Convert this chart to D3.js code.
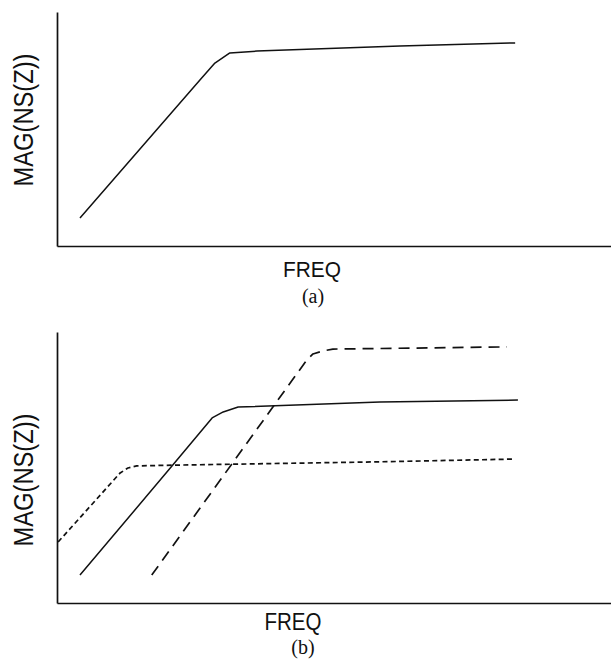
<!DOCTYPE html>
<html>
<head>
<meta charset="utf-8">
<script src="https://cdn.jsdelivr.net/npm/d3@7"></script>
<style>
  html, body { margin: 0; padding: 0; background: #fff; }
  svg { display: block; }
</style>
</head>
<body>
<script>
// ---------- data (abstract units: frequency 0-100, magnitude 0-100) ----------
const freqA      = [4.15, 25.8, 28.5, 31.2, 36.1, 61.9, 82.7];
const magA       = [12.0, 70.9, 78.2, 82.5, 83.3, 85.5, 86.8];

const freqBsolid = [4.15, 20.9, 28.0, 30.0, 32.7, 58.3, 83.2];
const magBsolid  = [10.3, 50.9, 68.3, 70.5, 72.3, 74.2, 74.9];

const freqBshort = [0.2, 11.4, 12.8, 14.4, 22.2, 58.3, 82.3];
const magBshort  = [22.5, 48.0, 49.8, 50.6, 50.9, 52.1, 53.1];

const freqBlong  = [17.1, 45.1, 46.2, 48.0, 49.8, 81.2];
const magBlong   = [10.3, 89.7, 91.9, 93.0, 93.7, 94.5];

const xLabel = "FREQ";
const yLabel = "MAG(NS(Z))";
const panelLabels = ["(a)", "(b)"];

// ---------- drawing ----------
const W = 611, H = 664;
const svg = d3.select("body").append("svg").attr("width", W).attr("height", H);
svg.append("rect").attr("width", W).attr("height", H).attr("fill", "#fff");

const ink = "#111";
const sans = "'Liberation Sans', Arial, sans-serif";
const serif = "'Liberation Serif', 'Times New Roman', serif";

function zip(xs, ys) { return xs.map((x, i) => [x, ys[i]]); }

function panel(cfg) {
  const x = d3.scaleLinear().domain([0, 100]).range([57, 611]);
  const y = d3.scaleLinear().domain([0, 100]).range([cfg.bottom, cfg.top]);
  const g = svg.append("g");

  const xa = g.append("g").attr("transform", `translate(0,${cfg.bottom})`)
    .call(d3.axisBottom(x).tickValues([]).tickSizeOuter(0));
  const ya = g.append("g").attr("transform", `translate(57,0)`)
    .call(d3.axisLeft(y).tickValues([]).tickSizeOuter(0));
  [xa, ya].forEach(a => a.select(".domain").attr("stroke", ink).attr("stroke-width", 1.7));

  const line = d3.line().x(d => x(d[0])).y(d => y(d[1])).curve(d3.curveLinear);
  cfg.series.forEach(s => {
    g.append("path")
      .attr("d", line(zip(s.fx, s.my)))
      .attr("fill", "none")
      .attr("stroke", ink)
      .attr("stroke-width", s.w)
      .attr("stroke-linejoin", "round")
      .attr("stroke-dasharray", s.dash);
  });

  // y label
  g.append("text")
    .attr("transform", `translate(${cfg.yLabX},${cfg.yLabY}) rotate(-90)`)
    .attr("text-anchor", "middle")
    .attr("font-family", sans)
    .attr("font-size", 27)
    .attr("textLength", 133)
    .attr("lengthAdjust", "spacingAndGlyphs")
    .attr("fill", ink)
    .text(yLabel);

  // x label
  g.append("text")
    .attr("x", cfg.xLabX).attr("y", cfg.xLabY)
    .attr("text-anchor", "middle")
    .attr("font-family", sans)
    .attr("font-size", cfg.xLabSize)
    .attr("textLength", cfg.xLabLen)
    .attr("lengthAdjust", "spacingAndGlyphs")
    .attr("fill", ink)
    .text(xLabel);

  // panel label
  g.append("text")
    .attr("x", cfg.pX).attr("y", cfg.pY)
    .attr("text-anchor", "middle")
    .attr("font-family", serif)
    .attr("font-size", 20)
    .attr("fill", ink)
    .text(cfg.pText);
}

panel({
  top: 12, bottom: 246,
  series: [{ fx: freqA, my: magA, dash: null, w: 1.5 }],
  yLabX: 33, yLabY: 120,
  xLabX: 312, xLabY: 277, xLabSize: 22, xLabLen: 58,
  pX: 313, pY: 303, pText: panelLabels[0]
});

panel({
  top: 332, bottom: 603,
  series: [
    { fx: freqBsolid, my: magBsolid, dash: null, w: 1.5 },
    { fx: freqBshort, my: magBshort, dash: "5,3.3", w: 1.7 },
    { fx: freqBlong,  my: magBlong,  dash: "11,7", w: 1.7 }
  ],
  yLabX: 33, yLabY: 480,
  xLabX: 293, xLabY: 630, xLabSize: 24, xLabLen: 57,
  pX: 303, pY: 654, pText: panelLabels[1]
});
</script>
</body>
</html>
